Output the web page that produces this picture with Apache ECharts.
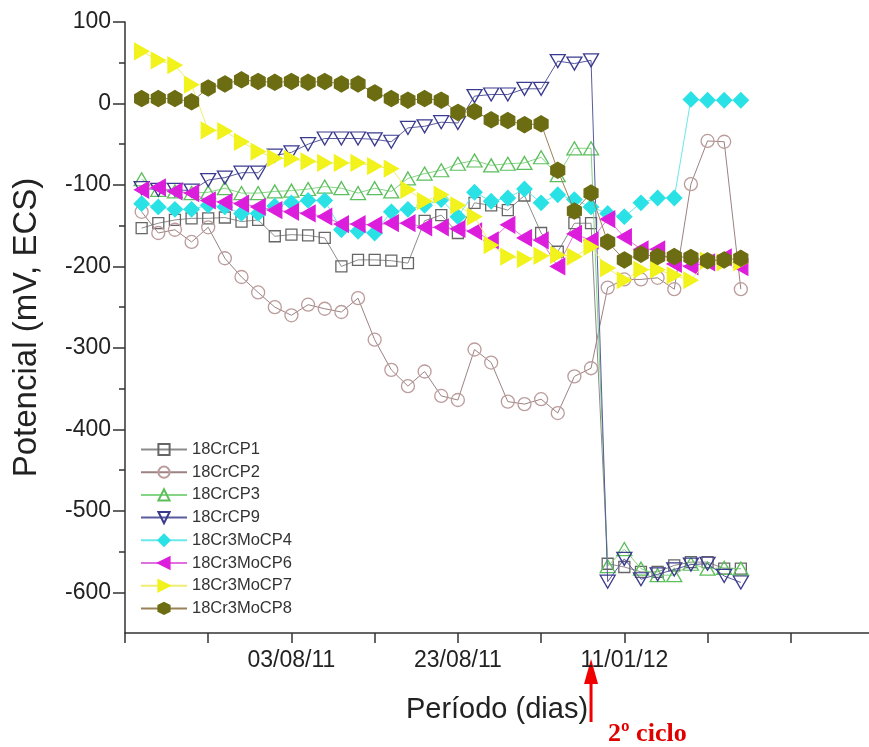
<!DOCTYPE html>
<html>
<head>
<meta charset="utf-8">
<script src="https://cdn.jsdelivr.net/npm/echarts@6/dist/echarts.min.js"></script>
<style>
  html, body { margin: 0; padding: 0; background: #fff; }
  #chart { width: 869px; height: 747px; }
</style>
</head>
<body>
<div id="chart"></div>
<script>
// sample number along the period axis (1st cycle: 1..28, 2nd cycle: 29..37)
const days = [1, 2, 3, 4, 5, 6, 7, 8, 9, 10, 11, 12, 13, 14, 15, 16, 17, 18, 19, 20,
  21, 22, 23, 24, 25, 26, 27, 28, 29, 30, 31, 32, 33, 34, 35, 36, 37];

const seriesNames = ["18CrCP1", "18CrCP2", "18CrCP3", "18CrCP9",
  "18Cr3MoCP4", "18Cr3MoCP6", "18Cr3MoCP7", "18Cr3MoCP8"];

const cp1 = [-153, -147, -143, -141, -141, -140, -145, -143, -163, -161, -162, -165, -200, -192, -192, -193, -196, -144, -137, -159,
  -122, -125, -131, -113, -159, -182, -147, -147, -565, -569, -575, -575, -567, -563, -563, -571, -571];
const cp2 = [-133, -159, -155, -170, -152, -190, -213, -232, -250, -260, -247, -252, -256, -239, -290, -327, -347, -329, -359, -364,
  -302, -318, -366, -369, -363, -380, -335, -325, -226, -216, -216, -214, -228, -99, -46, -47, -228];
const cp3 = [-93, -106, -108, -110, -109, -104, -110, -110, -108, -107, -105, -102, -104, -110, -104, -108, -92, -86, -82, -74,
  -70, -76, -74, -73, -66, -88, -55, -55, -568, -547, -571, -579, -579, -565, -571, -570, -571];
const cp9 = [-104, -106, -106, -107, -94, -91, -85, -85, -64, -60, -50, -43, -43, -43, -44, -47, -30, -28, -23, -24,
  9, 11, 11, 18, 18, 52, 49, 53, -587, -559, -584, -578, -572, -566, -565, -580, -588];
const cp4 = [-123, -127, -130, -130, -125, -127, -135, -135, -126, -122, -119, -119, -155, -157, -159, -133, -130, -125, -118, -139,
  -109, -120, -116, -105, -122, -112, -118, -127, -135, -139, -122, -116, -116, 5, 4, 4, 4];
const cp6 = [-106, -103, -108, -110, -119, -121, -123, -127, -131, -133, -135, -139, -148, -148, -149, -147, -147, -152, -152, -154,
  -157, -168, -149, -165, -168, -200, -160, -168, -142, -164, -179, -179, -197, -200, -195, -189, -201];
const cp7 = [64, 53, 47, 23, -33, -34, -47, -59, -67, -68, -71, -73, -73, -73, -77, -80, -106, -120, -112, -125,
  -139, -174, -188, -191, -187, -186, -188, -176, -202, -217, -204, -204, -211, -217, -193, -195, -195];
const cp8 = [6, 6, 6, 2, 19, 24, 29, 27, 26, 27, 26, 27, 24, 24, 13, 6, 4, 6, 4, -11,
  -10, -20, -21, -26, -25, -82, -132, -110, -170, -192, -185, -188, -188, -189, -193, -192, -190];

const xTickValues = [0, 5, 10, 15, 20, 25, 30, 35, 40];
const xLabelValues = [10, 20, 30];
const xLabelTexts = ["03/08/11", "23/08/11", "11/01/12"];
const yMajorTicks = [100, 0, -100, -200, -300, -400, -500, -600];
const yMinorTicks = [50, -50, -150, -250, -350, -450, -550];
const cycleStart = 28; // where the 2nd cycle begins (arrow)

const font = "'Liberation Sans', Arial, sans-serif";
const hexagon = "path://M0,-10L8.66,-5L8.66,5L0,10L-8.66,5L-8.66,-5Z";
const clear = "rgba(255,255,255,0)";

const styles = [
  { symbol: "rect", size: 11, fill: clear, stroke: "#666666", line: "#8c8c8c" },
  { symbol: "circle", size: 13, fill: clear, stroke: "#bb9c9c", line: "#9c8282" },
  { symbol: "triangle", size: [15, 13], fill: clear, stroke: "#5cbf5c", line: "#86d486" },
  { symbol: "triangle", size: [15, 13], rotate: 180, fill: clear, stroke: "#3a3a8e", line: "#5a5a9e" },
  { symbol: "diamond", size: 15, fill: "#2ae2e6", stroke: "#2ae2e6", line: "#6ae8ea" },
  { symbol: "triangle", size: [16, 14], rotate: 90, fill: "#dc1edc", stroke: "#dc1edc", line: "#e070e0" },
  { symbol: "triangle", size: [16, 14], rotate: -90, fill: "#f2f21c", stroke: "#f2f21c", line: "#eeee70" },
  { symbol: hexagon, size: 16, fill: "#6c6c12", stroke: "#6c6c12", line: "#9a8258" },
];
const allValues = [cp1, cp2, cp3, cp9, cp4, cp6, cp7, cp8];

const chart = echarts.init(document.getElementById("chart"), null, { renderer: "canvas" });

chart.setOption({
  animation: false,
  backgroundColor: "#ffffff",
  textStyle: { fontFamily: font },
  grid: { left: 125, right: 0, top: 22, bottom: 114 },
  legend: {
    orient: "vertical",
    left: 140,
    top: 441,
    padding: 0,
    itemWidth: 46,
    itemHeight: 14,
    itemGap: 5.7,
    data: seriesNames,
    textStyle: { fontSize: 16.5, color: "#333", fontFamily: font },
  },
  xAxis: {
    type: "value",
    min: 0,
    max: 44.7,
    name: "Período (dias)",
    nameLocation: "middle",
    nameGap: 62,
    nameTextStyle: { fontSize: 29, color: "#222", fontFamily: font },
    axisLine: { show: true, onZero: false, lineStyle: { color: "#333", width: 1.5 } },
    axisTick: { show: true, customValues: xTickValues, length: 10, lineStyle: { color: "#333", width: 1.5 } },
    axisLabel: {
      customValues: xLabelValues,
      formatter: (v) => xLabelTexts[xLabelValues.indexOf(v)] || "",
      margin: 16,
      fontSize: 23,
      color: "#222",
      fontFamily: font,
    },
    splitLine: { show: false },
  },
  yAxis: [
    {
      type: "value",
      min: -650,
      max: 100,
      name: "Potencial (mV, ECS)",
      nameLocation: "middle",
      nameGap: 82,
      nameTextStyle: { fontSize: 33, color: "#222", fontFamily: font },
      axisLine: { show: true, onZero: false, lineStyle: { color: "#333", width: 1.5 } },
      axisTick: { show: true, customValues: yMajorTicks, length: 12, lineStyle: { color: "#333", width: 1.5 } },
      axisLabel: { customValues: yMajorTicks, margin: 14, fontSize: 23, color: "#222", fontFamily: font },
      splitLine: { show: false },
    },
    {
      type: "value",
      min: -650,
      max: 100,
      position: "left",
      axisLine: { show: false },
      axisTick: { show: true, customValues: yMinorTicks, length: 6, lineStyle: { color: "#333", width: 1.5 } },
      axisLabel: { show: false },
      splitLine: { show: false },
    },
  ],
  series: seriesNames.map((name, k) => ({
    name,
    type: "line",
    yAxisIndex: 0,
    data: days.map((d, i) => [d, allValues[k][i]]),
    symbol: styles[k].symbol,
    symbolSize: styles[k].size,
    symbolRotate: styles[k].rotate || 0,
    symbolKeepAspect: true,
    showAllSymbol: true,
    itemStyle: { color: styles[k].fill, borderColor: styles[k].stroke, borderWidth: 1.3 },
    lineStyle: { color: styles[k].line, width: 1 },
    emphasis: { disabled: true },
    z: 2 + k,
  })),
});

// red arrow marking the start of the 2nd cycle
const ax = chart.convertToPixel({ xAxisIndex: 0 }, cycleStart);
chart.setOption({
  graphic: [
    { type: "line", shape: { x1: ax, y1: 722, x2: ax, y2: 678 }, style: { stroke: "#f00000", lineWidth: 3 } },
    { type: "polygon", shape: { points: [[ax - 7, 684], [ax + 7, 684], [ax, 659]] }, style: { fill: "#f00000" } },
    {
      type: "text", x: ax + 17, y: 734,
      style: { text: "2º ciclo", fill: "#e00000", font: "bold 26px 'Liberation Serif', 'Times New Roman', serif", verticalAlign: "middle" },
    },
  ],
});
</script>
</body>
</html>
